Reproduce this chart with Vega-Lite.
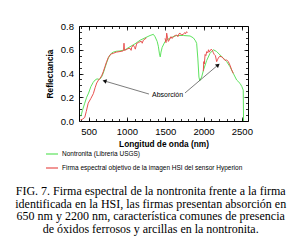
{
  "$schema": "https://vega.github.io/schema/vega-lite/v6.json",
  "width": 169,
  "height": 95,
  "autosize": {"type": "none"},
  "padding": {"left": 79, "top": 26, "right": 53, "bottom": 125},
  "background": "white",
  "title": {
    "text": [
      "FIG. 7. Firma espectral de la nontronita frente a la firma",
      "identificada en la HSI, las firmas presentan absorción en",
      "650 nm y 2200 nm, característica comunes de presencia",
      "de óxidos ferrosos y arcillas en la nontronita."
    ],
    "orient": "bottom",
    "anchor": "middle",
    "frame": "bounds",
    "font": "Liberation Serif",
    "fontSize": 12,
    "fontWeight": "normal",
    "lineHeight": 12.6,
    "offset": 14,
    "dx": 2,
    "color": "black"
  },
  "datasets": {
    "usgs": [
      {"wl": 400, "refl": 0.04}, {"wl": 420, "refl": 0.09}, {"wl": 450, "refl": 0.15},
      {"wl": 475, "refl": 0.2}, {"wl": 500, "refl": 0.235}, {"wl": 530, "refl": 0.29},
      {"wl": 560, "refl": 0.325}, {"wl": 585, "refl": 0.345}, {"wl": 610, "refl": 0.355},
      {"wl": 640, "refl": 0.35}, {"wl": 665, "refl": 0.365}, {"wl": 690, "refl": 0.4},
      {"wl": 712, "refl": 0.445}, {"wl": 735, "refl": 0.49}, {"wl": 758, "refl": 0.53},
      {"wl": 780, "refl": 0.556}, {"wl": 800, "refl": 0.572}, {"wl": 823, "refl": 0.58},
      {"wl": 860, "refl": 0.587}, {"wl": 910, "refl": 0.59}, {"wl": 975, "refl": 0.6},
      {"wl": 1040, "refl": 0.625}, {"wl": 1106, "refl": 0.65}, {"wl": 1171, "refl": 0.68},
      {"wl": 1236, "refl": 0.7}, {"wl": 1302, "refl": 0.72}, {"wl": 1345, "refl": 0.73},
      {"wl": 1367, "refl": 0.71}, {"wl": 1395, "refl": 0.67}, {"wl": 1410, "refl": 0.63},
      {"wl": 1425, "refl": 0.565}, {"wl": 1435, "refl": 0.54}, {"wl": 1445, "refl": 0.58},
      {"wl": 1460, "refl": 0.62}, {"wl": 1498, "refl": 0.67}, {"wl": 1563, "refl": 0.7},
      {"wl": 1650, "refl": 0.72}, {"wl": 1737, "refl": 0.72}, {"wl": 1824, "refl": 0.716},
      {"wl": 1867, "refl": 0.7}, {"wl": 1895, "refl": 0.675}, {"wl": 1910, "refl": 0.654},
      {"wl": 1925, "refl": 0.53}, {"wl": 1940, "refl": 0.37}, {"wl": 1950, "refl": 0.34},
      {"wl": 1975, "refl": 0.37}, {"wl": 2000, "refl": 0.43}, {"wl": 2041, "refl": 0.51},
      {"wl": 2084, "refl": 0.57}, {"wl": 2128, "refl": 0.6}, {"wl": 2171, "refl": 0.585},
      {"wl": 2215, "refl": 0.556}, {"wl": 2258, "refl": 0.53}, {"wl": 2302, "refl": 0.5},
      {"wl": 2345, "refl": 0.457}, {"wl": 2389, "refl": 0.4}, {"wl": 2432, "refl": 0.345},
      {"wl": 2476, "refl": 0.317}, {"wl": 2500, "refl": 0.29}, {"wl": 2518, "refl": 0.26},
      {"wl": 2522, "refl": 0.0}
    ],
    "hyperion": [
      {"wl": 395, "refl": 0.01, "tramo": 1}, {"wl": 420, "refl": 0.015, "tramo": 1},
      {"wl": 450, "refl": 0.03, "tramo": 1}, {"wl": 470, "refl": 0.08, "tramo": 1},
      {"wl": 495, "refl": 0.15, "tramo": 1}, {"wl": 530, "refl": 0.19, "tramo": 1},
      {"wl": 562, "refl": 0.23, "tramo": 1}, {"wl": 585, "refl": 0.28, "tramo": 1},
      {"wl": 606, "refl": 0.32, "tramo": 1}, {"wl": 630, "refl": 0.345, "tramo": 1},
      {"wl": 650, "refl": 0.36, "tramo": 1}, {"wl": 670, "refl": 0.38, "tramo": 1},
      {"wl": 692, "refl": 0.415, "tramo": 1}, {"wl": 715, "refl": 0.46, "tramo": 1},
      {"wl": 736, "refl": 0.5, "tramo": 1}, {"wl": 758, "refl": 0.535, "tramo": 1},
      {"wl": 780, "refl": 0.556, "tramo": 1}, {"wl": 800, "refl": 0.565, "tramo": 1},
      {"wl": 823, "refl": 0.57, "tramo": 1}, {"wl": 860, "refl": 0.58, "tramo": 1},
      {"wl": 910, "refl": 0.585, "tramo": 1}, {"wl": 950, "refl": 0.59, "tramo": 1},
      {"wl": 957, "refl": 0.6, "tramo": 1}, {"wl": 962, "refl": 0.655, "tramo": 1},
      {"wl": 968, "refl": 0.595, "tramo": 1}, {"wl": 990, "refl": 0.6, "tramo": 1},
      {"wl": 1015, "refl": 0.61, "tramo": 1}, {"wl": 1041, "refl": 0.612, "tramo": 1},
      {"wl": 1055, "refl": 0.595, "tramo": 1}, {"wl": 1062, "refl": 0.62, "tramo": 1},
      {"wl": 1084, "refl": 0.64, "tramo": 1}, {"wl": 1100, "refl": 0.62, "tramo": 1},
      {"wl": 1110, "refl": 0.605, "tramo": 1}, {"wl": 1128, "refl": 0.654, "tramo": 1},
      {"wl": 1150, "refl": 0.66, "tramo": 1}, {"wl": 1171, "refl": 0.668, "tramo": 1},
      {"wl": 1190, "refl": 0.67, "tramo": 1}, {"wl": 1200, "refl": 0.655, "tramo": 1},
      {"wl": 1214, "refl": 0.68, "tramo": 1}, {"wl": 1235, "refl": 0.69, "tramo": 1},
      {"wl": 1255, "refl": 0.7, "tramo": 1},
      {"wl": 1498, "refl": 0.696, "tramo": 2}, {"wl": 1510, "refl": 0.66, "tramo": 2},
      {"wl": 1519, "refl": 0.74, "tramo": 2}, {"wl": 1530, "refl": 0.7, "tramo": 2},
      {"wl": 1541, "refl": 0.67, "tramo": 2}, {"wl": 1560, "refl": 0.69, "tramo": 2},
      {"wl": 1575, "refl": 0.71, "tramo": 2}, {"wl": 1590, "refl": 0.695, "tramo": 2},
      {"wl": 1606, "refl": 0.71, "tramo": 2}, {"wl": 1630, "refl": 0.72, "tramo": 2},
      {"wl": 1650, "refl": 0.724, "tramo": 2}, {"wl": 1665, "refl": 0.71, "tramo": 2},
      {"wl": 1680, "refl": 0.735, "tramo": 2}, {"wl": 1693, "refl": 0.74, "tramo": 2},
      {"wl": 1710, "refl": 0.725, "tramo": 2}, {"wl": 1737, "refl": 0.73, "tramo": 2},
      {"wl": 1755, "refl": 0.745, "tramo": 2}, {"wl": 1765, "refl": 0.735, "tramo": 2},
      {"wl": 1780, "refl": 0.752, "tramo": 2}, {"wl": 1790, "refl": 0.745, "tramo": 2},
      {"wl": 1997, "refl": 0.42, "tramo": 3}, {"wl": 2003, "refl": 0.5, "tramo": 3},
      {"wl": 2010, "refl": 0.48, "tramo": 3}, {"wl": 2020, "refl": 0.56, "tramo": 3},
      {"wl": 2030, "refl": 0.55, "tramo": 3}, {"wl": 2041, "refl": 0.584, "tramo": 3},
      {"wl": 2055, "refl": 0.575, "tramo": 3}, {"wl": 2065, "refl": 0.6, "tramo": 3},
      {"wl": 2075, "refl": 0.58, "tramo": 3}, {"wl": 2084, "refl": 0.59, "tramo": 3},
      {"wl": 2100, "refl": 0.605, "tramo": 3}, {"wl": 2115, "refl": 0.595, "tramo": 3},
      {"wl": 2128, "refl": 0.575, "tramo": 3}, {"wl": 2140, "refl": 0.56, "tramo": 3},
      {"wl": 2155, "refl": 0.55, "tramo": 3}, {"wl": 2171, "refl": 0.5, "tramo": 3},
      {"wl": 2185, "refl": 0.52, "tramo": 3}, {"wl": 2193, "refl": 0.53, "tramo": 3},
      {"wl": 2210, "refl": 0.545, "tramo": 3}, {"wl": 2237, "refl": 0.54, "tramo": 3},
      {"wl": 2255, "refl": 0.53, "tramo": 3}, {"wl": 2280, "refl": 0.51, "tramo": 3},
      {"wl": 2300, "refl": 0.515, "tramo": 3}, {"wl": 2323, "refl": 0.5, "tramo": 3},
      {"wl": 2345, "refl": 0.47, "tramo": 3}, {"wl": 2367, "refl": 0.43, "tramo": 3},
      {"wl": 2389, "refl": 0.4, "tramo": 3}
    ],
    "etiqueta": [{"wl": 1530, "refl": 0.219, "texto": "Absorción"}],
    "flechas": [
      {"flecha": 1, "wl": 1288, "refl": 0.227, "wl2": 708, "refl2": 0.337},
      {"flecha": 2, "wl": 1758, "refl": 0.236, "wl2": 2189, "refl2": 0.472}
    ]
  },
  "config": {
    "view": {"stroke": "black", "strokeWidth": 1},
    "axis": {
      "domain": false, "grid": false,
      "labelFont": "Liberation Sans", "labelFontSize": 9.5, "labelColor": "black",
      "tickColor": "black", "tickWidth": 0.8,
      "titleFont": "Liberation Sans", "titleFontSize": 8.3, "titleFontWeight": "bold", "titleColor": "black"
    },
    "legend": {
      "orient": "none", "legendX": -34, "legendY": 121,
      "title": null, "symbolType": "stroke", "symbolSize": 144, "symbolStrokeWidth": 1.2,
      "labelFont": "Liberation Sans", "labelFontSize": 6.5, "labelColor": "black",
      "labelOffset": 3, "rowPadding": 3, "padding": 0, "labelLimit": 400
    }
  },
  "resolve": {"axis": {"x": "independent", "y": "independent"}},
  "layer": [
    {
      "data": {"name": "usgs"},
      "mark": {"type": "line", "strokeWidth": 1},
      "encoding": {
        "x": {"field": "wl", "type": "quantitative",
              "scale": {"domain": [375, 2580], "nice": false, "zero": false},
              "axis": {"orient": "bottom", "values": [500, 1000, 1500, 2000, 2500], "format": "d", "ticks": false,
                       "labelPadding": 5, "title": "Longitud de onda  (nm)", "titlePadding": 4}},
        "y": {"field": "refl", "type": "quantitative",
              "scale": {"domain": [0, 0.8], "nice": false},
              "axis": {"orient": "left", "values": [0, 0.2, 0.4, 0.6, 0.8], "format": ".1f", "ticks": false,
                       "labelPadding": 5.5, "title": "Reflectancia", "titlePadding": 6}},
        "color": {"datum": "Nontronita (Libreria USGS)",
                  "scale": {"domain": ["Nontronita (Libreria USGS)", "Firma espectral objetivo de la imagen HSI del sensor Hyperion"],
                            "range": ["#5ee35e", "#e8514f"]}}
      }
    },
    {
      "data": {"name": "flechas"},
      "mark": {"type": "rule", "color": "#444444", "strokeWidth": 0.7},
      "encoding": {
        "x": {"field": "wl", "type": "quantitative",
              "axis": {"orient": "bottom", "values": [500, 1000, 1500, 2000, 2500], "labels": false, "tickSize": -4, "title": null}},
        "y": {"field": "refl", "type": "quantitative",
              "axis": {"orient": "left", "values": [0, 0.2, 0.4, 0.6, 0.8], "labels": false, "tickSize": -4, "title": null}},
        "x2": {"field": "wl2"},
        "y2": {"field": "refl2"}
      }
    },
    {
      "data": {"name": "flechas"},
      "mark": {"type": "point", "shape": "triangle-up", "filled": true, "color": "#111111", "size": 22, "opacity": 1},
      "encoding": {
        "x": {"field": "wl2", "type": "quantitative",
              "axis": {"orient": "bottom", "values": [400, 500, 600, 700, 800, 900, 1000, 1100, 1200, 1300, 1400, 1500, 1600, 1700, 1800, 1900, 2000, 2100, 2200, 2300, 2400, 2500], "labels": false, "tickSize": -2.5, "title": null}},
        "y": {"field": "refl2", "type": "quantitative",
              "axis": {"orient": "left", "values": [0.05, 0.1, 0.15, 0.2, 0.25, 0.3, 0.35, 0.4, 0.45, 0.5, 0.55, 0.6, 0.65, 0.7, 0.75], "labels": false, "tickSize": -2.5, "title": null}},
        "angle": {"field": "flecha", "type": "nominal", "scale": {"domain": [1, 2], "range": [286, 50]}, "legend": null}
      }
    },
    {
      "data": {"name": "etiqueta"},
      "mark": {"type": "text", "font": "Liberation Sans", "fontSize": 7, "color": "black", "align": "center", "baseline": "middle"},
      "encoding": {
        "x": {"field": "wl", "type": "quantitative",
              "axis": {"orient": "top", "values": [500, 1000, 1500, 2000, 2500], "labels": false, "tickSize": -4, "title": null}},
        "y": {"field": "refl", "type": "quantitative",
              "axis": {"orient": "right", "values": [0, 0.2, 0.4, 0.6, 0.8], "labels": false, "tickSize": -4, "title": null}},
        "text": {"field": "texto"}
      }
    },
    {
      "data": {"name": "hyperion"},
      "mark": {"type": "line", "strokeWidth": 1},
      "encoding": {
        "x": {"field": "wl", "type": "quantitative",
              "axis": {"orient": "top", "values": [400, 500, 600, 700, 800, 900, 1000, 1100, 1200, 1300, 1400, 1500, 1600, 1700, 1800, 1900, 2000, 2100, 2200, 2300, 2400, 2500], "labels": false, "tickSize": -2.5, "title": null}},
        "y": {"field": "refl", "type": "quantitative",
              "axis": {"orient": "right", "values": [0.05, 0.1, 0.15, 0.2, 0.25, 0.3, 0.35, 0.4, 0.45, 0.5, 0.55, 0.6, 0.65, 0.7, 0.75], "labels": false, "tickSize": -2.5, "title": null}},
        "detail": {"field": "tramo", "type": "nominal"},
        "color": {"datum": "Firma espectral objetivo de la imagen HSI del sensor Hyperion"}
      }
    }
  ]
}
